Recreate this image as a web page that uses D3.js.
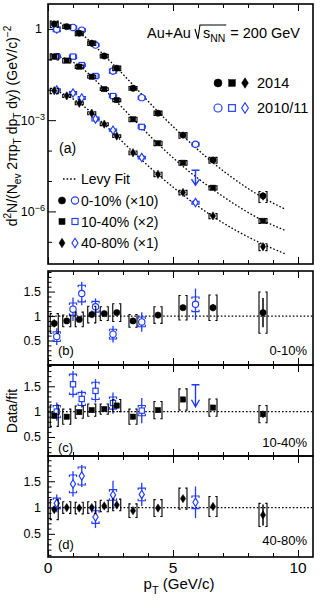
<!DOCTYPE html>
<html>
<head>
<meta charset="utf-8">
<script src="https://cdn.jsdelivr.net/npm/d3@7"></script>
<style>
  body { margin: 0; background: #fff; }
  svg { display: block; }
  text { font-family: "Liberation Sans", Arial, Helvetica, sans-serif; fill: #000; }
</style>
</head>
<body>
<svg id="chart" width="323" height="600"></svg>
<script>
// ---------- data ----------
const ptNew = [0.25, 0.75, 1.25, 1.75, 2.25, 2.75, 3.4, 4.4, 5.4, 6.6, 8.6];   // 2014
const ptOld = [0.35, 1.0, 1.35, 1.9, 2.6, 3.75, 5.9];                           // 2010/11
const fitPt = [0.2, 0.75, 1.25, 1.75, 2.25, 2.75, 3.4, 4.4, 5.4, 6.6, 8.6, 9.5];

const centLegend = ["0-10% (\u00d710)", "10-40% (\u00d72)", "40-80% (\u00d71)"];
const centShort = ["0-10%", "10-40%", "40-80%"];
const panelTags = ["(b)", "(c)", "(d)"];
const xTickLabels = ["0", "5", "10"];

// invariant yields, scaled
const spec14_0 = [1.46, 1.19, 0.72, 0.34, 0.129, 0.0513, 0.0112, 1.70e-3, 3.24e-4, 4.9e-5, 3.24e-6];
const spec14_1 = [0.123, 0.0912, 0.0575, 0.0269, 0.0105, 4.57e-3, 1.07e-3, 1.74e-4, 3.98e-5, 6.0e-6, 4.9e-7];
const spec14_2 = [9.3e-3, 6.3e-3, 3.6e-3, 1.7e-3, 7.4e-4, 3.0e-4, 8.5e-5, 1.66e-5, 4.2e-6, 7.1e-7, 6.9e-8];

const spec11_0 = [0.98, 1.12, 0.91, 0.295, 0.0417, 5.5e-3, 1.62e-4];
const spec11_1 = [0.126, 0.123, 0.0646, 0.0282, 6.2e-3, 6.0e-4, null];
const spec11_2 = [9.8e-3, 7.8e-3, 5.4e-3, 1.1e-3, 4.7e-4, 5.9e-5, 1.95e-6];
const limit11_1 = [5.9, 2.26e-5];   // upper limit, 10-40%

// Levy fits
const fit_0 = [1.78, 1.32, 0.776, 0.347, 0.135, 0.0525, 0.0145, 1.91e-3, 3.02e-4, 3.98e-5, 2.82e-6, 1.17e-6];
const fit_1 = [0.135, 0.102, 0.0603, 0.0269, 0.0105, 3.98e-3, 1.12e-3, 1.66e-4, 3.02e-5, 5.25e-6, 5.01e-7, 2.34e-7];
const fit_2 = [0.0100, 6.46e-3, 3.72e-3, 1.74e-3, 7.24e-4, 2.95e-4, 9.12e-5, 1.62e-5, 3.47e-6, 6.76e-7, 8.32e-8, 3.98e-8];

// data / fit, 2014
const ratio14_0 = [0.85, 0.90, 0.93, 1.03, 1.05, 1.07, 0.90, 1.02, 1.17, 1.17, 1.07];
const stat14_0  = [0.08, 0.04, 0.04, 0.04, 0.03, 0.03, 0.03, 0.03, 0.04, 0.07, 0.30];
const sys14_0   = [0.20, 0.12, 0.15, 0.17, 0.14, 0.18, 0.13, 0.17, 0.25, 0.26, 0.42];
const ratio14_1 = [0.92, 0.90, 0.99, 1.03, 1.05, 1.12, 0.90, 1.03, 1.24, 1.08, 0.95];
const stat14_1  = [0.05, 0.03, 0.03, 0.03, 0.03, 0.03, 0.03, 0.03, 0.03, 0.04, 0.07];
const sys14_1   = [0.21, 0.15, 0.12, 0.12, 0.10, 0.12, 0.15, 0.17, 0.21, 0.17, 0.17];
const ratio14_2 = [0.96, 1.00, 0.99, 1.00, 1.03, 1.05, 0.94, 0.99, 1.17, 1.02, 0.86];
const stat14_2  = [0.05, 0.03, 0.03, 0.03, 0.03, 0.03, 0.03, 0.03, 0.04, 0.05, 0.20];
const sys14_2   = [0.19, 0.11, 0.11, 0.11, 0.11, 0.11, 0.13, 0.16, 0.20, 0.19, 0.22];

// data / fit, 2010/11
const ratio11_0 = [0.58, 1.14, 1.46, 1.19, 0.63, 0.88, 1.24];
const stat11_0  = [0.17, 0.24, 0.24, 0.17, 0.17, 0.20, 0.32];
const sys11_0   = [0.10, 0.125, 0.17, 0.11, 0.10, 0.10, 0.15];
const ratio11_1 = [1.00, 1.54, 1.25, 1.41, 1.17, 1.02, null];
const stat11_1  = [0.18, 0.26, 0.17, 0.23, 0.21, 0.25, null];
const sys11_1   = [0.12, 0.20, 0.13, 0.17, 0.12, 0.10, null];
const ratioLimit11_1 = [5.9, 1.53];
const ratio11_2 = [1.08, 1.45, 1.60, 0.82, 1.24, 1.25, 1.10];
const stat11_2  = [0.17, 0.24, 0.21, 0.21, 0.27, 0.22, 0.30];
const sys11_2   = [0.10, 0.17, 0.17, 0.12, 0.10, 0.12, 0.12];

// ---------- assembled series ----------
const shapes = ["circle", "square", "diamond"];
const spec14 = [spec14_0, spec14_1, spec14_2];
const spec11 = [spec11_0, spec11_1, spec11_2];
const fits = [fit_0, fit_1, fit_2];
const r14 = [ratio14_0, ratio14_1, ratio14_2], s14 = [stat14_0, stat14_1, stat14_2], y14 = [sys14_0, sys14_1, sys14_2];
const r11 = [ratio11_0, ratio11_1, ratio11_2], s11 = [stat11_0, stat11_1, stat11_2], y11 = [sys11_0, sys11_1, sys11_2];

const BLUE = "#1f3cff";
const svg = d3.select("#chart");
const L = 48, R = 313;
const x = d3.scaleLinear().domain([0, 10.6]).range([L, R]);
const MS = 6.3;   // data marker size

// ---------- helpers ----------
function marker(g, shape, cx, cy, filled, color, s) {
  const common = sel => sel.attr("fill", filled ? color : "#fff")
    .attr("stroke", color).attr("stroke-width", filled ? 0.5 : 1.15);
  if (shape === "circle") {
    g.append("circle").attr("cx", cx).attr("cy", cy).attr("r", s * 0.5).call(common);
  } else if (shape === "square") {
    const a = s * 0.84;
    g.append("rect").attr("x", cx - a / 2).attr("y", cy - a / 2).attr("width", a).attr("height", a).call(common);
  } else {
    const hw = s * 0.42, hh = s * 0.66;
    g.append("path").attr("d", `M${cx},${cy - hh}L${cx + hw},${cy}L${cx},${cy + hh}L${cx - hw},${cy}Z`).call(common);
  }
}
function vline(g, px, y1, y2, color, w) {
  g.append("line").attr("x1", px).attr("x2", px).attr("y1", y1).attr("y2", y2)
    .attr("stroke", color).attr("stroke-width", w);
}
function brackets(g, px, yHi, yLo, color) {   // "[ ]" systematic box
  const w = 4, t = 1.7;
  g.append("path").attr("fill", "none").attr("stroke", color).attr("stroke-width", 1.1)
    .attr("d", `M${px - w + t},${yHi}H${px - w}V${yLo}H${px - w + t}M${px + w - t},${yHi}H${px + w}V${yLo}H${px + w - t}`);
}
function caps(g, px, yHi, yLo, color) {       // cap-style systematic markers
  const w = 3.6, t = 2;
  g.append("path").attr("fill", "none").attr("stroke", color).attr("stroke-width", 1.1)
    .attr("d", `M${px - w},${yHi + t}V${yHi}H${px + w}V${yHi + t}M${px - w},${yLo - t}V${yLo}H${px + w}V${yLo - t}`);
}
function arrowDown(g, px, yTop, len, color) {
  const head = Math.min(7, len * 0.4);
  g.append("path").attr("fill", "none").attr("stroke", color).attr("stroke-width", 1.4)
    .attr("d", `M${px - 4},${yTop}H${px + 4}M${px},${yTop}V${yTop + len}M${px - 4},${yTop + len - head}L${px},${yTop + len}L${px + 4},${yTop + len - head}`);
}
function rich(t, parts, base) {
  // parts: [text, "" | "sub" | "sup"]
  let shift = 0;
  parts.forEach(([s, k]) => {
    const target = k === "sub" ? base * 0.3 : k === "sup" ? -base * 0.4 : 0;
    t.append("tspan").attr("dy", target - shift).attr("font-size", k ? base * 0.72 : base).text(s);
    shift = target;
  });
}
function xTicks(g, yPix, dir) {  // dir: -1 -> ticks point up, +1 -> ticks point down
  const minor = d3.range(1, 11).filter(v => v % 5 !== 0);
  const axisF = dir < 0 ? d3.axisBottom : d3.axisTop;
  g.append("g").attr("transform", `translate(0,${yPix})`)
    .call(axisF(x).tickValues(minor).tickSize(-4).tickFormat(""))
    .call(a => a.select(".domain").remove());
  g.append("g").attr("transform", `translate(0,${yPix})`)
    .call(axisF(x).tickValues([0, 5, 10]).tickSize(-7).tickFormat(""))
    .call(a => a.select(".domain").remove());
  g.selectAll(".tick line").attr("stroke", "#000").attr("stroke-width", 1);
}

// ---------- panel (a): spectra ----------
const aTop = 4, aBot = 264;
const yA = d3.scaleLog().domain([Math.pow(10, -7.73), Math.pow(10, 0.82)]).range([aBot, aTop]);
const gA = svg.append("g");

// axes
xTicks(gA, aBot, -1);
xTicks(gA, aTop, 1);
const minorDecades = [1e-1, 1e-2, 1e-4, 1e-5, 1e-7];
const labeledDecades = [1, 1e-3, 1e-6];
const decadeLabels = [["1"], ["10", "\u22123"], ["10", "\u22126"]];
gA.append("g").attr("transform", `translate(${L},0)`)
  .call(d3.axisLeft(yA).tickValues(minorDecades).tickSize(-4).tickFormat(""))
  .call(a => a.select(".domain").remove());
gA.append("g").attr("transform", `translate(${L},0)`)
  .call(d3.axisLeft(yA).tickValues(labeledDecades).tickSize(-8).tickFormat(""))
  .call(a => a.select(".domain").remove());
gA.selectAll(".tick line").attr("stroke", "#000");
labeledDecades.forEach((v, k) => {
  const lab = decadeLabels[k];
  const t = gA.append("text").attr("x", lab.length === 1 ? 42 : 45).attr("y", yA(v) + 4.5)
    .attr("text-anchor", "end").attr("font-size", 12.5);
  if (lab.length === 1) t.text(lab[0]);
  else rich(t, [[lab[0], ""], [lab[1], "sup"]], 12.5);
});

// Levy fit curves
const fitLine = d3.line().x(d => x(d[0])).y(d => yA(d[1])).curve(d3.curveMonotoneX);
fits.forEach(f => {
  gA.append("path").attr("d", fitLine(fitPt.map((p, i) => [p, f[i]])))
    .attr("fill", "none").attr("stroke", "#000").attr("stroke-width", 1.3).attr("stroke-dasharray", "1.6,2");
});

// points
[0, 1, 2].forEach(c => {
  // 2010/11
  ptOld.forEach((p, i) => {
    const v = spec11[c][i];
    if (v == null) return;
    const rs = s11[c][i] / r11[c][i], ry = y11[c][i] / r11[c][i];
    const px = x(p);
    vline(gA, px, yA(v * (1 + rs)), yA(Math.max(v * (1 - rs), 1e-12)), BLUE, 1.3);
    caps(gA, px, yA(v * (1 + ry)), yA(v * (1 - ry)), BLUE);
    marker(gA, shapes[c], px, yA(v), false, BLUE, MS);
  });
  // 2014
  ptNew.forEach((p, i) => {
    const v = spec14[c][i];
    const rs = s14[c][i] / r14[c][i], ry = y14[c][i] / r14[c][i];
    const px = x(p);
    vline(gA, px, yA(v * (1 + rs)), yA(v * (1 - rs)), "#000", 1.5);
    brackets(gA, px, yA(v * (1 + ry)), yA(v * (1 - ry)), "#000");
    marker(gA, shapes[c], px, yA(v), true, "#000", MS);
  });
});
arrowDown(gA, x(limit11_1[0]), yA(limit11_1[1]), 15, BLUE);

// frame
gA.append("rect").attr("x", L).attr("y", aTop).attr("width", R - L).attr("height", aBot - aTop)
  .attr("fill", "none").attr("stroke", "#000").attr("stroke-width", 1.6);

// header
{
  const base = 38, fs = 14.5;
  const t1 = gA.append("text").attr("x", 147).attr("y", base).attr("font-size", fs).text("Au+Au");
  const w1 = t1.node().getComputedTextLength();
  const rx = 147 + w1 + 4;
  const t2 = gA.append("text").attr("x", rx + 8).attr("y", base).attr("font-size", fs);
  rich(t2, [["s", ""], ["NN", "sub"]], fs);
  const w2 = t2.node().getComputedTextLength();
  gA.append("path").attr("fill", "none").attr("stroke", "#000").attr("stroke-width", 1.1)
    .attr("d", `M${rx},${base - 9}L${rx + 3},${base + 1}L${rx + 5},${base - 13}H${rx + 8 + w2 + 1}`);
  gA.append("text").attr("x", rx + 8 + w2 + 5).attr("y", base).attr("font-size", fs).text("= 200 GeV");
}

// year legend
const legYears = [["2014", true, "#000", 83], ["2010/11", false, BLUE, 108]];
legYears.forEach(([lab, filled, col, ly]) => {
  [218, 232, 245].forEach((lx, k) => marker(gA, shapes[k], lx, ly, filled, col, 8));
  gA.append("text").attr("x", 257).attr("y", ly + 5).attr("font-size", 14.5).text(lab);
});

// (a) label and centrality legend
gA.append("text").attr("x", 59).attr("y", 153).attr("font-size", 14).text("(a)");
gA.append("line").attr("x1", 63).attr("x2", 77).attr("y1", 179).attr("y2", 179)
  .attr("stroke", "#000").attr("stroke-width", 1.3).attr("stroke-dasharray", "1.6,2");
gA.append("text").attr("x", 81).attr("y", 184).attr("font-size", 14).text("Levy Fit");
[200.5, 221.5, 243].forEach((ly, c) => {
  marker(gA, shapes[c], 62, ly, true, "#000", 7.2);
  marker(gA, shapes[c], 75, ly, false, BLUE, 7.2);
  gA.append("text").attr("x", 81).attr("y", ly + 5).attr("font-size", 14).text(centLegend[c]);
});

// y title (a)
{
  const t = gA.append("text").attr("text-anchor", "middle").attr("font-size", 14)
    .attr("transform", "translate(17,126) rotate(-90)");
  rich(t, [["d", ""], ["2", "sup"], ["N/(N", ""], ["ev", "sub"], [" 2\u03c0p", ""], ["T", "sub"],
           [" dp", ""], ["T", "sub"], [" dy) (GeV/c)", ""], ["\u22122", "sup"]], 14);
}

// ---------- ratio panels ----------
const ratioPanels = [
  { top: 271, bot: 365, dom: [0, 1.92] },
  { top: 365, bot: 456, dom: [0.125, 1.92] },
  { top: 456, bot: 557, dom: [0.06, 1.98] }
];
ratioPanels.forEach((P, c) => {
  const g = svg.append("g");
  const y = d3.scaleLinear().domain(P.dom).range([P.bot, P.top]);
  xTicks(g, P.bot, -1);
  xTicks(g, P.top, 1);
  const minorT = d3.range(1, 20).map(v => v / 10).filter(v => v > P.dom[0] && v < P.dom[1] && Math.abs(v * 2 - Math.round(v * 2)) > 1e-6);
  const majorT = [0.5, 1, 1.5];
  g.append("g").attr("transform", `translate(${L},0)`)
    .call(d3.axisLeft(y).tickValues(minorT).tickSize(-3.5).tickFormat(""))
    .call(a => a.select(".domain").remove());
  g.append("g").attr("transform", `translate(${L},0)`)
    .call(d3.axisLeft(y).tickValues(majorT).tickSize(-7).tickFormat(""))
    .call(a => a.select(".domain").remove());
  g.selectAll(".tick line").attr("stroke", "#000");
  majorT.forEach(v => g.append("text").attr("x", 41).attr("y", y(v) + 4.5).attr("text-anchor", "end")
    .attr("font-size", 12.5).text(String(v)));

  // unity line
  g.append("line").attr("x1", L).attr("x2", R).attr("y1", y(1)).attr("y2", y(1))
    .attr("stroke", "#000").attr("stroke-width", 1.2).attr("stroke-dasharray", "1.6,2");

  // 2010/11
  ptOld.forEach((p, i) => {
    const v = r11[c][i];
    if (v == null) return;
    const px = x(p);
    vline(g, px, y(v + s11[c][i]), y(v - s11[c][i]), BLUE, 1.3);
    caps(g, px, y(v + y11[c][i]), y(v - y11[c][i]), BLUE);
    marker(g, shapes[c], px, y(v), false, BLUE, MS);
  });
  if (c === 1) arrowDown(g, x(ratioLimit11_1[0]), y(ratioLimit11_1[1]), 22, BLUE);
  // 2014
  ptNew.forEach((p, i) => {
    const v = r14[c][i], px = x(p);
    vline(g, px, y(v + s14[c][i]), y(v - s14[c][i]), "#000", 1.5);
    brackets(g, px, y(v + y14[c][i]), y(v - y14[c][i]), "#000");
    marker(g, shapes[c], px, y(v), true, "#000", MS);
  });

  g.append("rect").attr("x", L).attr("y", P.top).attr("width", R - L).attr("height", P.bot - P.top)
    .attr("fill", "none").attr("stroke", "#000").attr("stroke-width", 1.6);

  const tagY = [355, 452, 549][c], labY = [355, 447, 545][c];
  g.append("text").attr("x", 58).attr("y", tagY).attr("font-size", 13).text(panelTags[c]);
  g.append("text").attr("x", 307).attr("y", labY).attr("text-anchor", "end").attr("font-size", 13).text(centShort[c]);
});

// ratio y title
svg.append("text").attr("text-anchor", "middle").attr("font-size", 14)
  .attr("transform", "translate(17,411) rotate(-90)").text("Data/fit");

// x tick labels and title
[0, 5, 10].forEach((v, k) => svg.append("text").attr("x", x(v)).attr("y", 573).attr("text-anchor", "middle")
  .attr("font-size", 15.5).text(xTickLabels[k]));
{
  const t = svg.append("text").attr("x", 179).attr("y", 589).attr("text-anchor", "middle").attr("font-size", 15);
  rich(t, [["p", ""], ["T", "sub"], [" (GeV/c)", ""]], 15);
}
</script>
</body>
</html>
